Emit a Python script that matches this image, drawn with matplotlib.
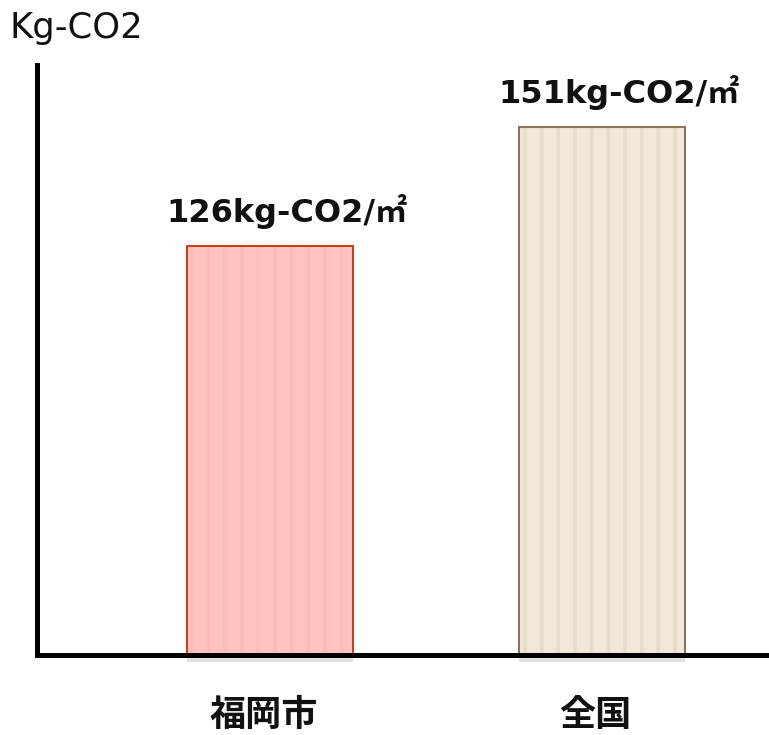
import matplotlib.pyplot as plt

# data
categories = ['福岡市', '全国']
values = [126, 151]
value_labels = ['126kg-CO2/㎡', '151kg-CO2/㎡']

face_colors = ['#FFC4C2', '#F3E7D8']
stripe_colors = ['#FFB9B6', '#E9DBC8']
edge_colors = ['#C2441F', '#8C7558']

plt.rcParams['hatch.linewidth'] = 2.5

fig = plt.figure(figsize=(7.69, 7.35), dpi=100)
ax = fig.add_axes([0.048, 0.109, 0.952, 0.803])

x = list(range(len(categories)))

# drop shadow (slightly below the bars)
ax.bar(x, [v - 38.6 for v in values], width=0.5, bottom=38.6, color='#000000',
       alpha=0.12, linewidth=0, zorder=1, clip_on=False)
# face
ax.bar(x, [v - 40 for v in values], width=0.5, bottom=40, color=face_colors,
       linewidth=0, zorder=2)
# stripes
for i in x:
    ax.bar(i, values[i] - 40, width=0.5, bottom=40, color='none',
           edgecolor=stripe_colors[i], hatch='|', linewidth=0, zorder=3)
# border
ax.bar(x, [v - 40 for v in values], width=0.5, bottom=40, fill=False,
       edgecolor=edge_colors, linewidth=1.5, zorder=4)

ax.set_xlim(-0.702, 1.503)
ax.set_ylim(40, 164)

for i in x:
    ax.text(i + 0.05, values[i] + 7.2, value_labels[i], ha='center', va='center',
            fontsize=23, fontweight='bold', family=['DejaVu Sans', 'Noto Sans CJK JP'],
            color='#111111')
    ax.text(i - 0.02, 27.3, categories[i], ha='center', va='center',
            fontsize=26, fontweight='bold', family=['Noto Sans CJK JP'], color='#111111')

fig.text(0.013, 0.962, 'Kg-CO2', ha='left', va='center', fontsize=25.5,
         family=['DejaVu Sans'], color='#111111')

for s in ['top', 'right']:
    ax.spines[s].set_visible(False)
ax.spines['left'].set_linewidth(3.6)
ax.spines['bottom'].set_linewidth(3.6)
ax.spines['bottom'].set_zorder(5)
ax.set_xticks([])
ax.set_yticks([])

plt.savefig('out.png', dpi=100)
